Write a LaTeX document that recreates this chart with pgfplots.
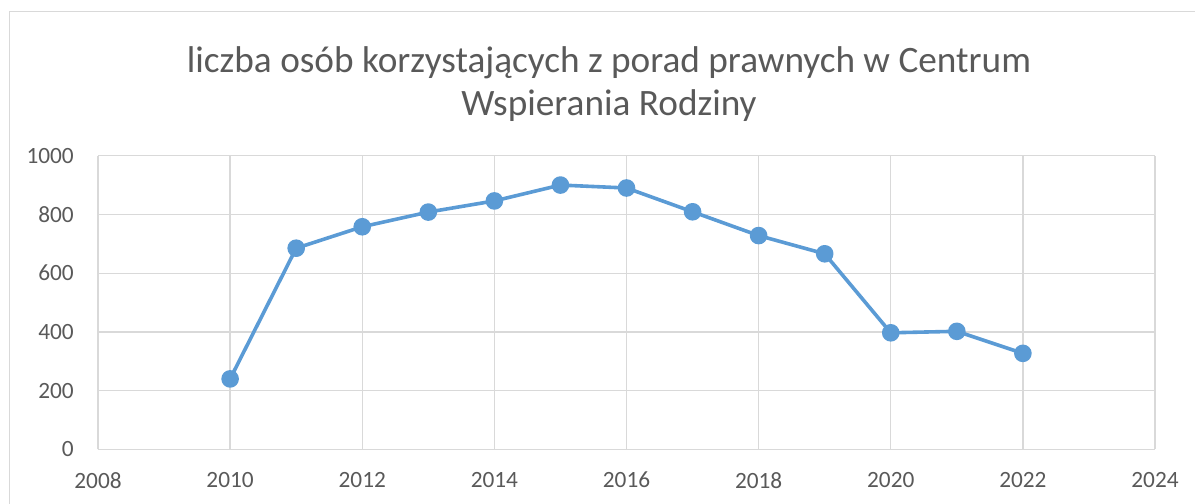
\documentclass[border=0pt]{standalone}
\usepackage{pgfplots}
\pgfplotsset{compat=1.18}
\usepackage{fontspec}
\setmainfont{Carlito}
\definecolor{serie}{HTML}{5B9BD5}
\definecolor{gridc}{HTML}{D9D9D9}
\definecolor{txt}{HTML}{595959}
\begin{document}
\begin{tikzpicture}[x=1bp,y=1bp]
\useasboundingbox (0,0) rectangle (1195,504);
\draw[gridc, line width=1.3bp] (9.5,-3) -- (9.5,492.5) -- (1198,492.5);
\node[txt, font=\fontsize{37.4}{44}\selectfont, anchor=base, inner sep=0pt] at (609,431) {liczba osób korzystających z porad prawnych w Centrum};
\node[txt, font=\fontsize{37.4}{44}\selectfont, anchor=base, inner sep=0pt] at (609,388) {Wspierania Rodziny};
\begin{axis}[
  at={(98bp,54.6bp)}, anchor=south west,
  scale only axis, width=1057bp, height=293.7bp,
  xmin=2008, xmax=2024, ymin=0, ymax=1000,
  xtick={2008,2010,...,2024}, ytick={0,200,...,1000},
  grid=major,
  major grid style={gridc, line width=1.3bp},
  axis line style={gridc, line width=1.3bp},
  axis x line*=bottom, axis y line*=left,
  tick style={draw=none},
  ticklabel style={txt, font=\fontsize{23.4}{28}\selectfont, inner sep=0pt},
  /pgf/number format/assume math mode=true,
  /pgf/number format/1000 sep={},
  xticklabel style={anchor=north, yshift=-22.6bp},
  yticklabel style={anchor=east, xshift=-24bp},
  clip=false,
]
\addplot[serie, line width=3.6bp, line join=round, mark=*, mark size=7bp, mark options={fill=serie, draw=none}] coordinates {
(2010,240) (2011,685) (2012,758) (2013,808) (2014,846) (2015,900) (2016,890)
(2017,809) (2018,728) (2019,666) (2020,397) (2021,402) (2022,327)
};
\end{axis}
\end{tikzpicture}
\end{document}
